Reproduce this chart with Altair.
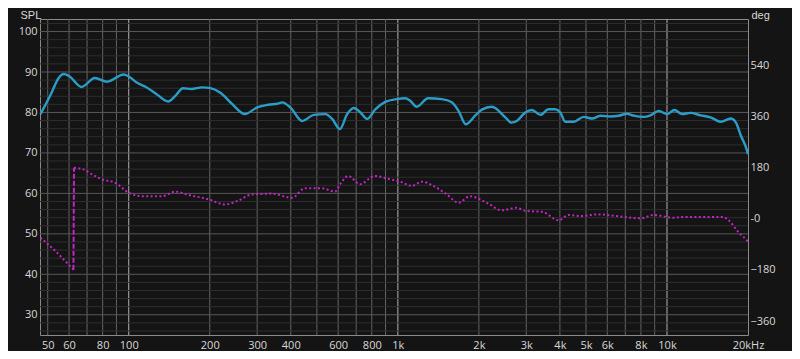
import altair as alt
import pandas as pd

# ---- data ----
spl_freq = [47, 51.2, 55, 57.4, 60, 66.8, 74.8, 83.1, 95.8, 100, 107, 115, 127, 140, 149, 159,
            171, 187, 201, 219, 242, 270, 299, 330, 358, 372, 399, 441, 487, 538, 570, 609,
            648, 686, 726, 768, 826, 898, 990, 1065, 1111, 1175, 1295, 1455, 1586, 1680,
            1788, 1937, 2051, 2237, 2508, 2640, 2767, 2974, 3148, 3383, 3632, 3847, 4015,
            4190, 4502, 4907, 5274, 5660, 6168, 6621, 7108, 7528, 8200, 8684, 9318, 10007,
            10650, 11380, 12220, 13320, 14520, 15840, 17270, 18040, 18840, 19670, 20000]
spl_db = [79.6, 84.3, 88.6, 89.5, 89.0, 86.3, 88.5, 87.6, 89.4, 88.9, 87.4, 86.4, 84.5, 82.7, 84.1, 86.0,
          85.8, 86.2, 86.0, 84.9, 82.1, 79.6, 81.2, 81.9, 82.2, 82.5, 81.2, 77.9, 79.4, 79.6, 78.4, 75.9,
          79.6, 81.1, 80.0, 78.4, 80.8, 82.6, 83.3, 83.5, 82.9, 81.4, 83.5, 83.3, 82.5, 80.4,
          77.1, 79.2, 80.7, 81.4, 78.8, 77.5, 77.9, 80.0, 80.6, 79.4, 80.8, 80.8, 80.0,
          77.7, 77.7, 78.9, 78.5, 79.2, 79.0, 79.2, 79.7, 79.2, 78.9, 79.3, 80.4, 79.6,
          80.6, 79.6, 79.9, 79.3, 78.8, 77.7, 78.5, 77.5, 74.2, 71.3, 69.7]

# phase before the wrap
ph_freq_a = [47, 53.4, 61.6, 62.3]
ph_deg_a = [-67, -114, -175, -180]
# phase after the wrap
ph_freq_b = [62.6, 68, 73, 79.6, 89, 100, 112, 133, 149, 167, 198, 228, 256, 287, 340, 404,
             452, 521, 584, 610, 655, 722, 822, 936, 1020, 1127, 1229, 1356, 1520, 1680, 1854,
             2016, 2195, 2423, 2751, 2990, 3437, 3960, 4310, 4820, 5490, 6540, 7980, 8920,
             10540, 11480, 14000, 16110, 17060, 18300, 19660, 20000]
ph_deg_b = [179, 173, 156, 138, 126, 91, 79, 79, 95, 83, 68, 50, 64, 85, 88, 73,
            107, 107, 95, 121, 150, 121, 150, 138, 130, 115, 130, 115, 85, 56, 79,
            68, 50, 29, 38, 27, 24, -6, 13, 9, 15, 9, 1, 13,
            3, 6, 6, 6, -8, -44, -73, -80]

x_tick_values = [50, 60, 80, 100, 200, 300, 400, 600, 800, 1000, 2000, 3000, 4000, 5000,
                 6000, 8000, 10000, 20000]
v_grid = [50, 60, 70, 80, 90, 100, 200, 300, 400, 500, 600, 700, 800, 900,
          1000, 2000, 3000, 4000, 5000, 6000, 7000, 8000, 9000, 10000]
decades = [100, 1000, 10000]
h_grid = list(range(26, 103, 2))
spl_ticks = [30, 40, 50, 60, 70, 80, 90, 100]
deg_ticks = [-360, -180, 0, 180, 360, 540]

# ---- styling ----
BG = "#141414"
TXT = "#d8d8d8"
FONT = "Open Sans"
TITLE_FONT = "Liberation Sans"
SPL_COLOR = "#2a9ec8"
PH_COLOR = "#c622c6"

spl_df = pd.DataFrame({"f": spl_freq, "db": spl_db})
pha_df = pd.DataFrame({"f": ph_freq_a, "deg": ph_deg_a})
phb_df = pd.DataFrame({"f": ph_freq_b, "deg": ph_deg_b})
wrap_df = pd.DataFrame({"f": [ph_freq_a[-1], ph_freq_b[0]], "deg": [ph_deg_a[-1], ph_deg_b[0]]})
vg_df = pd.DataFrame({"f": v_grid,
                      "c": ["#b4b4b4" if v in decades else "#646464" for v in v_grid]})
hg_df = pd.DataFrame({"db": h_grid,
                      "c": ["#585858" if v % 10 == 0 else "#2e2e2e" for v in h_grid]})

xscale = alt.Scale(type="log", domain=[46.8, 20000], nice=False)
xaxis = alt.Axis(values=x_tick_values, title=None, grid=False, ticks=False, domain=False,
                 labelFlush=False, labelOverlap=False, labelPadding=4,
                 labelExpr="datum.value >= 20000 ? '20kHz' : (datum.value >= 1000 ? format(datum.value/1000, 'd') + 'k' : format(datum.value, 'd'))")

yl_scale = alt.Scale(domain=[25, 103.1], nice=False, zero=False)
yl_axis = alt.Axis(values=spl_ticks, title="SPL", titleAngle=0, titleAlign="left",
                   titleBaseline="alphabetic", titleX=-20, titleY=-1, grid=False, ticks=False,
                   domain=False, labelFlush=False, labelOverlap=False, labelPadding=3,
                   orient="left")
yr_scale = alt.Scale(domain=[-409, 701.7], nice=False, zero=False)
yr_axis = alt.Axis(values=deg_ticks, title="deg", titleAngle=0, titleAlign="left",
                   titleBaseline="alphabetic", titleX=3, titleY=-1, grid=False, ticks=False,
                   domain=False, labelFlush=False, labelOverlap=False, labelPadding=2,
                   orient="right",
                   labelExpr="datum.value == 0 ? '-0' : format(datum.value, 'd')")


def X():
    return alt.X("f:Q", scale=xscale, axis=xaxis)


def YL(field):
    return alt.Y(field, type="quantitative", scale=yl_scale, axis=yl_axis)


def YR():
    return alt.Y("deg:Q", scale=yr_scale, axis=yr_axis)


hgrid = alt.Chart(hg_df).mark_rule(strokeWidth=1).encode(
    y=YL("db"), color=alt.Color("c:N", scale=None))
vgrid = alt.Chart(vg_df).mark_rule(strokeWidth=1).encode(
    x=X(), color=alt.Color("c:N", scale=None))
spl_line = alt.Chart(spl_df).mark_line(color=SPL_COLOR, strokeWidth=2.4, interpolate="monotone").encode(
    x=X(), y=YL("db"))

left = alt.layer(vgrid, hgrid, spl_line)

ph_a = alt.Chart(pha_df).mark_line(color=PH_COLOR, strokeWidth=2, strokeDash=[2, 2.4],
                                   interpolate="monotone").encode(x=X(), y=YR())
ph_wrap = alt.Chart(wrap_df).mark_line(color=PH_COLOR, strokeWidth=2, strokeDash=[5, 2]).encode(
    x=X(), y=YR())
ph_b = alt.Chart(phb_df).mark_line(color=PH_COLOR, strokeWidth=2, strokeDash=[2, 2.4],
                                   interpolate="monotone").encode(x=X(), y=YR())

right = alt.layer(ph_a, ph_wrap, ph_b)

chart = alt.layer(left, right).resolve_scale(y="independent").properties(
    width=708, height=316,
    autosize=alt.AutoSizeParams(type="none"),
    padding={"left": 32, "top": 11, "right": 44, "bottom": 16},
    background=BG,
).configure_view(
    stroke="#8a8a8a", strokeWidth=1, fill=BG
).configure_axis(
    labelFont=FONT, labelFontSize=11, labelColor=TXT,
    titleFont=TITLE_FONT, titleFontSize=11, titleColor=TXT, titleFontWeight="normal"
)

chart.save("out.html", embed_options={"renderer": "svg", "actions": False})
